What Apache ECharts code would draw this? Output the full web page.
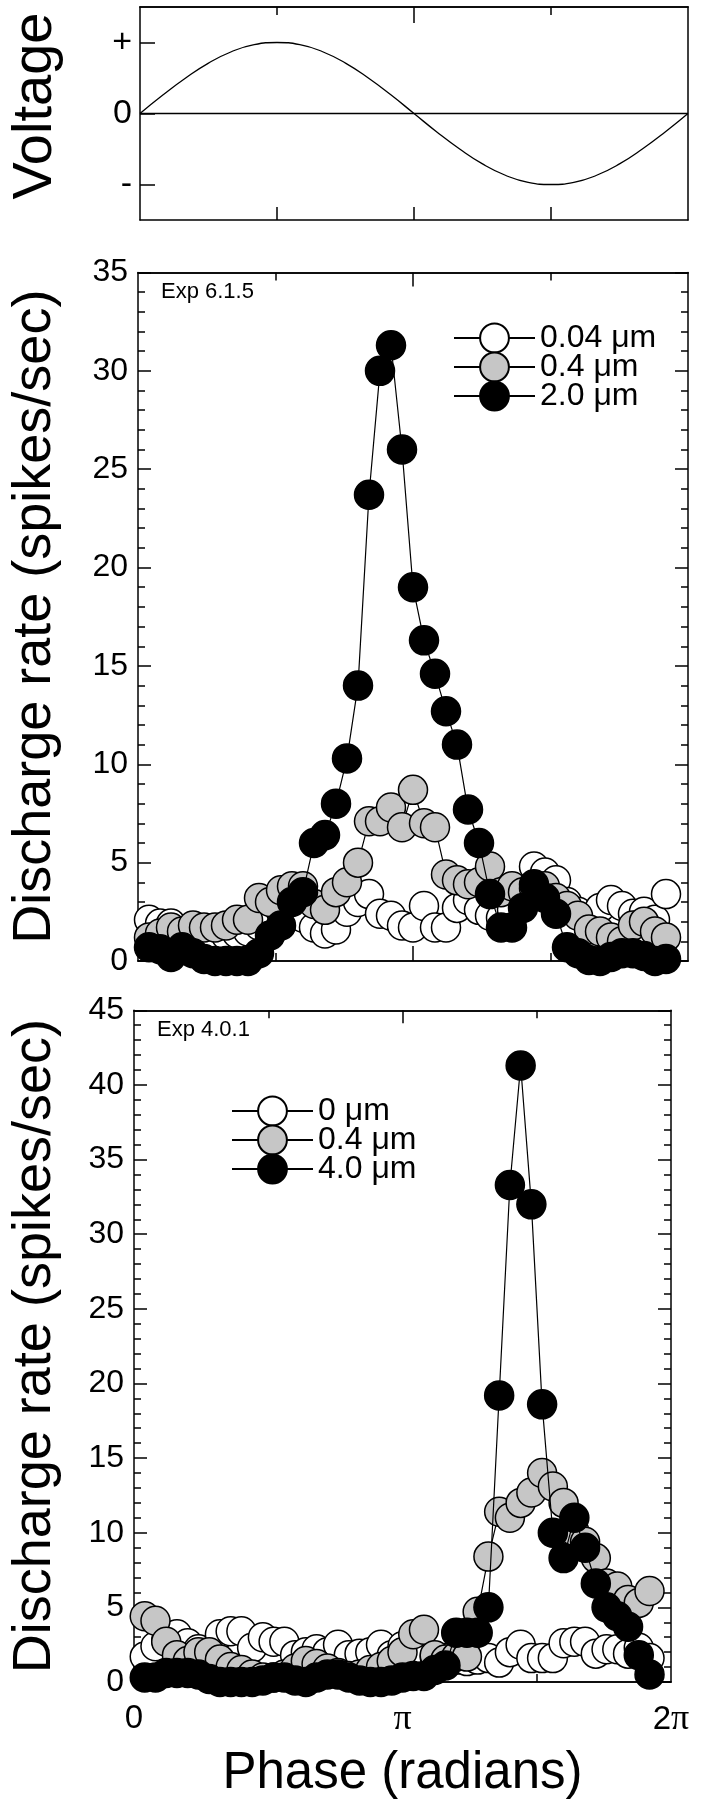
<!DOCTYPE html>
<html>
<head>
<meta charset="utf-8">
<script src="https://cdn.jsdelivr.net/npm/echarts@6/dist/echarts.min.js"></script>
<style>
html, body { margin: 0; padding: 0; background: #fff; }
#chart { width: 702px; height: 1800px; }
</style>
</head>
<body>
<div id="chart"></div>
<script>
const FONT = "'Liberation Sans', Arial, Helvetica, sans-serif";

// top panel: stimulus voltage, one reading every 15 degrees of phase
const voltPhase = [0, 15, 30, 45, 60, 75, 90, 105, 120, 135, 150, 165, 180,
  195, 210, 225, 240, 255, 270, 285, 300, 315, 330, 345, 360];
const voltage = [0, 0.26, 0.5, 0.71, 0.87, 0.97, 1, 0.97, 0.87, 0.71, 0.5, 0.26, 0,
  -0.26, -0.5, -0.71, -0.87, -0.97, -1, -0.97, -0.87, -0.71, -0.5, -0.26, 0];

// phase bins (50 bins per cycle), points sit on bins 1..48
const bins = [1, 2, 3, 4, 5, 6, 7, 8, 9, 10, 11, 12, 13, 14, 15, 16, 17, 18, 19, 20,
  21, 22, 23, 24, 25, 26, 27, 28, 29, 30, 31, 32, 33, 34, 35, 36, 37, 38, 39, 40,
  41, 42, 43, 44, 45, 46, 47, 48];

// Exp 6.1.5
const names615 = ['0.04 μm', '0.4 μm', '2.0 μm'];
const rate615_004 = [2.1, 1.9, 1.9, 1.5, 1.3, 1.1, 1.2, 1.3, 1.4, 1.5, 1.8, 2.2, 2.5, 2.6, 2.2, 1.7,
  1.4, 1.6, 2.5, 3.0, 3.4, 2.4, 2.3, 1.8, 1.7, 2.8, 1.7, 1.7, 2.7, 3.1, 2.6, 2.3,
  2.2, 2.6, 3.3, 4.8, 4.5, 4.1, 3.0, 2.5, 2.0, 2.7, 3.1, 2.8, 2.4, 2.5, 2.1, 3.4];
const rate615_04 = [1.2, 1.4, 1.7, 1.5, 1.8, 1.7, 1.7, 1.8, 2.1, 2.1, 3.2, 3.0, 3.6, 3.8, 3.8, 2.9,
  2.6, 3.5, 4.0, 5.0, 7.1, 7.1, 7.8, 6.8, 8.7, 7.0, 6.8, 4.4, 4.1, 3.9, 4.0, 4.8,
  3.5, 3.8, 3.5, 3.7, 3.8, 3.2, 2.8, 2.3, 1.6, 1.5, 1.2, 1.0, 1.8, 2.0, 1.5, 1.2];
const rate615_20 = [0.7, 0.6, 0.2, 0.7, 0.4, 0.1, 0, 0, 0, 0, 0.4, 1.3, 1.8, 3.0, 3.5, 6.0,
  6.4, 8.0, 10.3, 14.0, 23.7, 30.0, 31.3, 26.0, 19.0, 16.3, 14.6, 12.7, 11.0, 7.7, 6.0, 3.4,
  1.7, 1.7, 2.7, 3.9, 3.2, 2.4, 0.7, 0.4, 0.05, 0, 0.2, 0.4, 0.4, 0.25, 0, 0.1];

// Exp 4.0.1
const names401 = ['0 μm', '0.4 μm', '4.0 μm'];
const rate401_0 = [1.7, 2.4, 2.8, 3.2, 2.6, 2.2, 2.0, 3.2, 3.4, 3.4, 2.3, 3.0, 2.7, 2.7, 1.8, 2.0,
  2.2, 2.0, 2.5, 1.8, 1.9, 2.0, 2.5, 1.8, 2.4, 2.0, 1.8, 1.7, 1.6, 1.5, 1.4, 1.5,
  1.6, 1.3, 2.0, 2.5, 1.6, 1.6, 1.6, 2.6, 2.7, 2.7, 1.9, 2.2, 2.2, 1.9, 2.3, 1.6];
const rate401_04 = [4.4, 4.1, 2.7, 1.8, 1.4, 2.0, 2.0, 1.5, 1.0, 0.8, 0.5, 0.3, 0.3, 0.5, 0.9, 1.4,
  1.2, 0.9, 0.6, 0.4, 0.5, 0.8, 1.0, 1.4, 2.0, 3.2, 3.5, 1.8, 1.5, 1.7, 1.7, 4.7,
  8.4, 11.4, 11.0, 12.0, 12.7, 14.0, 13.1, 12.0, 10.1, 9.4, 8.3, 6.6, 6.4, 5.5, 5.3, 6.1];
const rate401_40 = [0.3, 0.3, 0.6, 0.6, 0.6, 0.5, 0.2, 0, 0, 0, 0, 0.1, 0.3, 0.3, 0.1, 0,
  0.3, 0.5, 0.5, 0.3, 0.1, 0, 0, 0.1, 0.3, 0.4, 0.4, 0.8, 1.1, 3.3, 3.3, 3.3,
  5.0, 19.2, 33.3, 41.3, 32.0, 18.6, 10.0, 8.3, 11.0, 9.0, 6.6, 5.0, 4.4, 3.7, 1.8, 0.5];

const fills = ['#ffffff', '#c6c6c6', '#000000'];

const blk = { color: '#000', width: 1.5 };

function xAx(grid, pos, min, max, ticks, len, extra) {
  return Object.assign({
    type: 'value', gridIndex: grid, position: pos, min: min, max: max,
    axisLine: { show: true, onZero: false, lineStyle: blk },
    axisTick: { show: true, inside: true, length: len, customValues: ticks, lineStyle: blk },
    axisLabel: { show: false },
    splitLine: { show: false }
  }, extra || {});
}

function yAx(grid, pos, max, showLabels, name, nameGap) {
  return {
    type: 'value', gridIndex: grid, position: pos, min: 0, max: max, interval: 5,
    axisLine: { show: true, onZero: false, lineStyle: blk },
    axisTick: { show: true, inside: true, length: 13, lineStyle: blk },
    minorTick: { show: true, splitNumber: 5, length: 7, lineStyle: blk },
    axisLabel: { show: showLabels, fontSize: 32, fontFamily: FONT, color: '#000', margin: 10 },
    splitLine: { show: false },
    name: name, nameLocation: 'middle', nameGap: nameGap,
    nameTextStyle: { fontSize: 54, fontFamily: FONT, color: '#000' }
  };
}

function rateSeries(name, vals, k, xi, yi) {
  return {
    name: name, type: 'line', xAxisIndex: xi, yAxisIndex: yi,
    data: vals.map((v, i) => [bins[i], v]),
    symbol: 'circle', symbolSize: 29, showAllSymbol: true, clip: false,
    lineStyle: { color: '#000', width: 1.2 },
    itemStyle: { color: fills[k], borderColor: '#000', borderWidth: 1.5 },
    emphasis: { disabled: true },
    z: 2 + k
  };
}

const piRich = { p: { fontFamily: "'Liberation Serif', 'DejaVu Serif', serif", fontSize: 36, color: '#000' } };

const chart = echarts.init(document.getElementById('chart'), null, { renderer: 'canvas' });
chart.setOption({
  animation: false,
  backgroundColor: '#fff',
  textStyle: { fontFamily: FONT },
  grid: [
    { left: 134, top: 7, width: 554, height: 213 },
    { left: 134, top: 272.5, width: 554, height: 688.5 },
    { left: 130.5, top: 1010.3, width: 540.5, height: 672 }
  ],
  xAxis: [
    xAx(0, 'bottom', 0, 360, [90, 180, 270], 13),
    xAx(0, 'top', 0, 360, [180], 16),
    xAx(0, 'top', 0, 360, [90, 270], 8),

    xAx(1, 'bottom', 0, 50, [25], 15),
    xAx(1, 'bottom', 0, 50, [12.5, 37.5], 8),
    xAx(1, 'top', 0, 50, [25], 14),
    xAx(1, 'top', 0, 50, [12.5, 37.5], 8),

    xAx(2, 'bottom', 0, 50, [25], 13, {
      axisLabel: {
        show: true, customValues: [0, 25, 50], margin: 20,
        fontSize: 33, fontFamily: FONT, color: '#000', rich: piRich,
        formatter: function (v) { return v === 0 ? '0' : (v === 25 ? '{p|π}' : '2{p|π}'); }
      },
      name: 'Phase (radians)', nameLocation: 'middle', nameGap: 66,
      nameTextStyle: { fontSize: 51, fontFamily: FONT, color: '#000' }
    }),
    xAx(2, 'bottom', 0, 50, [12.5, 37.5], 8),
    xAx(2, 'top', 0, 50, [25], 13),
    xAx(2, 'top', 0, 50, [12.5, 37.5], 8)
  ],
  yAxis: [
    {
      type: 'value', gridIndex: 0, position: 'left', min: -1.5, max: 1.5,
      axisLine: { show: true, onZero: false, lineStyle: blk },
      axisTick: { show: true, inside: true, length: 15, customValues: [-1, 0, 1], lineStyle: blk },
      axisLabel: {
        show: true, customValues: [-1, 0, 1], margin: 8,
        fontSize: 34, fontFamily: FONT, color: '#000',
        formatter: function (v) { return v > 0 ? '+' : (v < 0 ? '-' : '0'); }
      },
      splitLine: { show: false },
      name: 'Voltage', nameLocation: 'middle', nameGap: 76,
      nameTextStyle: { fontSize: 56, fontFamily: FONT, color: '#000', padding: [0, 0, 0, 15] }
    },
    {
      type: 'value', gridIndex: 0, position: 'right', min: -1.5, max: 1.5,
      axisLine: { show: true, onZero: false, lineStyle: blk },
      axisTick: { show: false }, axisLabel: { show: false }, splitLine: { show: false }
    },
    yAx(1, 'left', 35, true, 'Discharge rate (spikes/sec)', 76),
    yAx(1, 'right', 35, false, '', 0),
    yAx(2, 'left', 45, true, 'Discharge rate (spikes/sec)', 72),
    yAx(2, 'right', 45, false, '', 0)
  ],
  legend: [
    {
      data: names615, orient: 'vertical', left: 448, top: 317,
      itemWidth: 81, itemHeight: 36, itemGap: -3, selectedMode: false,
      textStyle: { fontSize: 32, fontFamily: FONT, color: '#000' }
    },
    {
      data: names401, orient: 'vertical', left: 226, top: 1090,
      itemWidth: 81, itemHeight: 36, itemGap: -3, selectedMode: false,
      textStyle: { fontSize: 32, fontFamily: FONT, color: '#000' }
    }
  ],
  graphic: [
    { type: 'text', left: 161, top: 281, style: { text: 'Exp 6.1.5', font: '22px ' + FONT, fill: '#000' } },
    { type: 'text', left: 157, top: 1019, style: { text: 'Exp 4.0.1', font: '22px ' + FONT, fill: '#000' } }
  ],
  series: [
    {
      type: 'line', xAxisIndex: 0, yAxisIndex: 0, smooth: true, symbol: 'none',
      data: voltage.map((v, i) => [voltPhase[i], v]),
      lineStyle: { color: '#000', width: 1.3 },
      markLine: {
        silent: true, symbol: 'none', label: { show: false },
        lineStyle: { color: '#000', width: 1.3, type: 'solid' },
        data: [{ yAxis: 0 }]
      }
    },
    rateSeries(names615[0], rate615_004, 0, 3, 2),
    rateSeries(names615[1], rate615_04, 1, 3, 2),
    rateSeries(names615[2], rate615_20, 2, 3, 2),
    rateSeries(names401[0], rate401_0, 0, 7, 4),
    rateSeries(names401[1], rate401_04, 1, 7, 4),
    rateSeries(names401[2], rate401_40, 2, 7, 4)
  ]
});
</script>
</body>
</html>
